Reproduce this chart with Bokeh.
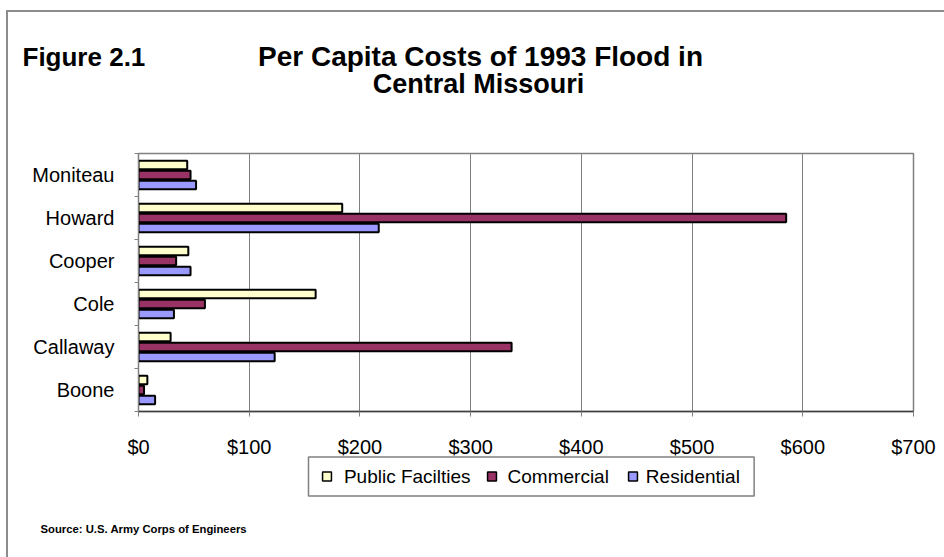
from bokeh.plotting import figure
from bokeh.models import (Range1d, FixedTicker, NumeralTickFormatter, Label, ColumnDataSource)
from bokeh.transform import dodge
from bokeh.embed import file_html
from bokeh.resources import INLINE

# ---------------- data ----------------
counties = ["Boone", "Callaway", "Cole", "Cooper", "Howard", "Moniteau"]
public_facilities = [8, 29, 160, 45, 184, 44]
commercial = [5, 337, 60, 34, 585, 47]
residential = [15, 123, 32, 47, 217, 52]
series_names = ["Public Facilties", "Commercial", "Residential"]
series_colors = ["#FFFFCC", "#993366", "#9999FF"]
x_ticks = [0, 100, 200, 300, 400, 500, 600, 700]
fig_label = "Figure 2.1"
title_lines = ["Per Capita Costs of 1993 Flood in", "Central Missouri"]
source_note = "Source: U.S. Army Corps of Engineers"

# ---------------- layout ----------------
W, H = 944, 557
FL, FR, FT, FB = 138, 913, 153, 411   # plot frame in page pixels
FONT = "Liberation Sans"
GRAY = "#808080"
EDGE = "#8c8c8c"
EDGE_X, EDGE_Y = 7, 11
NB = "\u00a0"

n = len(counties)
centers = [i + 0.5 for i in range(n)]
src = ColumnDataSource(dict(county=counties, pos=centers, pf=public_facilities,
                            com=commercial, res=residential))

p = figure(width=W, height=H,
           y_range=Range1d(0, n),
           x_range=Range1d(x_ticks[0], x_ticks[-1]),
           output_backend="svg", toolbar_location=None,
           min_border_left=FL, min_border_right=W - FR,
           min_border_top=FT, min_border_bottom=H - FB)
p.background_fill_color = "white"
p.border_fill_color = None
p.styles = {"background": f"linear-gradient({EDGE}, {EDGE}) {EDGE_X - 1}px {EDGE_Y - 1}px / 2px 100% no-repeat, "
                          f"linear-gradient({EDGE}, {EDGE}) {EDGE_X - 1}px {EDGE_Y - 1}px / 100% 2px no-repeat, white"}
p.outline_line_color = GRAY
p.outline_line_width = 1.5

bh = 0.2
off = 0.233
p.hbar(y=dodge("pos", off), right="pf", height=bh, source=src,
       fill_color=series_colors[0], line_color="black", line_width=2)
p.hbar(y=dodge("pos", 0.0), right="com", height=bh, source=src,
       fill_color=series_colors[1], line_color="black", line_width=2)
p.hbar(y=dodge("pos", -off), right="res", height=bh, source=src,
       fill_color=series_colors[2], line_color="black", line_width=2)

xa = p.xaxis[0]
xa.ticker = FixedTicker(ticks=x_ticks)
xa.formatter = NumeralTickFormatter(format="$0")
xa.major_label_text_font = FONT
xa.major_label_text_font_size = "20px"
xa.major_label_text_color = "black"
xa.major_tick_in = 0
xa.major_tick_out = 5
xa.minor_tick_line_color = None
xa.axis_line_color = "#404040"
xa.axis_line_width = 1.5
xa.major_tick_line_color = GRAY
xa.major_label_standoff = 19

p.xgrid.grid_line_color = GRAY
p.ygrid.visible = False

ya = p.yaxis[0]
ya.ticker = FixedTicker(ticks=centers, minor_ticks=list(range(n + 1)))
ya.major_label_overrides = {c: name for c, name in zip(centers, counties)}
ya.major_tick_line_color = None
ya.minor_tick_line_color = GRAY
ya.minor_tick_in = 0
ya.minor_tick_out = 4
ya.axis_line_color = GRAY
ya.major_label_text_font = FONT
ya.major_label_text_font_size = "20px"
ya.major_label_text_color = "black"
ya.major_label_standoff = 18

# page-pixel position -> data coordinates of the main scales
def xd(cx):
    return x_ticks[0] + (cx - FL) / (FR - FL) * (x_ticks[-1] - x_ticks[0])

def yd(cy):
    return (FB - cy) / (FB - FT) * n

def lab(text, cx, cy, size, align="left", bold=True, baseline="alphabetic", **kw):
    return Label(x=xd(cx), y=yd(cy), x_units="data", y_units="data", text=text,
                 text_font=FONT, text_font_style="bold" if bold else "normal",
                 text_font_size=size, text_align=align, text_baseline=baseline,
                 text_color="black", **kw)

# titles and source (above panel)
p.add_layout(lab(fig_label, 22, 56, "26px"), "above")
p.add_layout(lab(title_lines[0], 480, 56, "28px", "center"), "above")
p.add_layout(lab(title_lines[1], 478, 83, "27px", "center"), "above")
p.add_layout(lab(source_note, 40, 528, "11.3px"), "above")

# legend: one framed text line with the three series names ...
legend_text = (NB * 5 + series_names[0] + NB * 7 + series_names[1] + NB * 7 +
               series_names[2] + NB)
p.add_layout(lab(legend_text, 308, 476, "19px", bold=False, baseline="middle",
                 padding=9, border_line_color=GRAY, border_line_width=1.5,
                 background_fill_color=None), "below")
# ... and a colour swatch in front of each name
for cx, col in zip([326.5, 491.5, 632.5], series_colors):
    p.add_layout(lab(NB * 4, cx, 476, "8px", "center", bold=False, baseline="middle",
                     background_fill_color=col, border_line_color="black",
                     border_line_width=1.5), "above")

open("out.html", "w").write(file_html(p, INLINE))
